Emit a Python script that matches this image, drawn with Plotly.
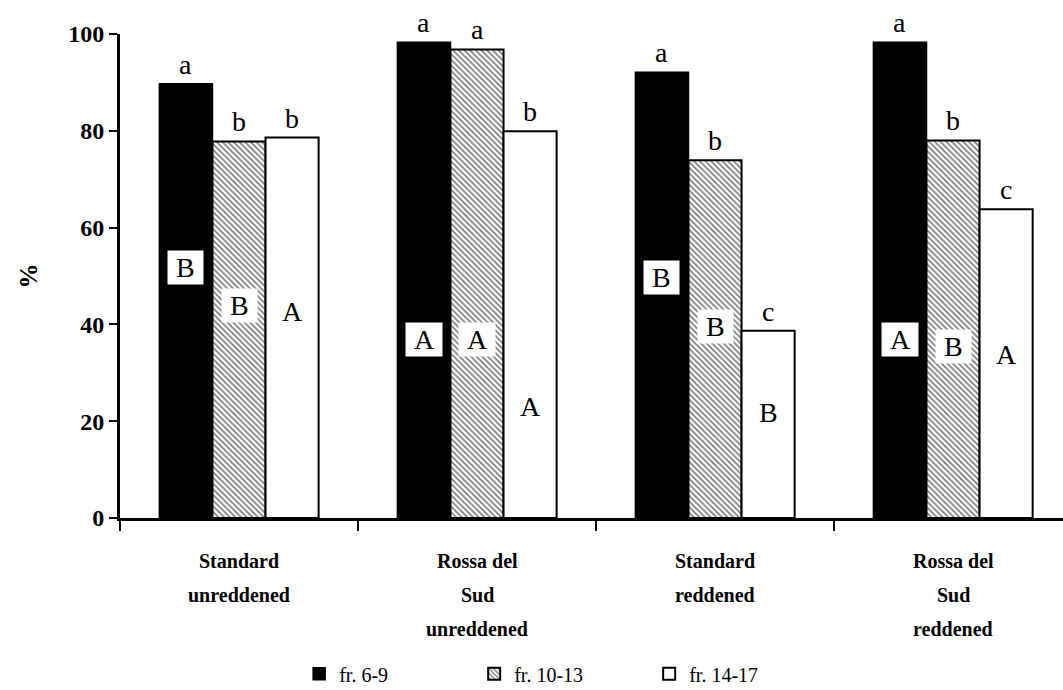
import plotly.graph_objects as go

# Groups and their (multi-line) names
groups = ["Standard\nunreddened", "Rossa del\nSud\nunreddened",
          "Standard\nreddened", "Rossa del\nSud\nreddened"]
series_names = ["fr. 6-9", "fr. 10-13", "fr. 14-17"]

# Percent values per fraction
fr_6_9 = [89.7, 98.3, 92.1, 98.3]
fr_10_13 = [77.8, 96.8, 73.9, 78.0]
fr_14_17 = [78.6, 79.9, 38.7, 63.8]

# Significance letters: lower case above each bar, upper case inside
lower_letters = [["a", "b", "b"], ["a", "a", "b"], ["a", "b", "c"], ["a", "b", "c"]]
upper_letters = [["B", "B", "A"], ["A", "A", "A"], ["B", "B", "B"], ["A", "B", "A"]]
upper_heights = [[51.7, 44.0, 42.6], [36.8, 36.8, 23.1],
                 [49.6, 39.5, 21.7], [36.8, 35.5, 33.8]]

y_ticks = [0, 20, 40, 60, 80, 100]

SERIF = "Liberation Serif, Times New Roman, serif"
BAR_W = 0.223
x_pos = list(range(len(groups)))

values = [fr_6_9, fr_10_13, fr_14_17]
styles = [
    dict(color="black", line=dict(color="black", width=1.5)),
    dict(color="white", line=dict(color="black", width=2),
         pattern=dict(shape="\\", fgcolor="black", bgcolor="white",
                      size=4, solidity=0.45)),
    dict(color="white", line=dict(color="black", width=2)),
]

fig = go.Figure()
offsets = []
for i, (name, vals, mk) in enumerate(zip(series_names, values, styles)):
    off = -1.5 * BAR_W + i * BAR_W
    offsets.append(off)
    fig.add_trace(go.Bar(
        x=x_pos, y=vals, name=name, width=BAR_W, offset=off,
        marker=mk, showlegend=True,
    ))

annotations = []
for g in range(len(groups)):
    for i in range(3):
        xc = x_pos[g] + offsets[i] + BAR_W / 2
        annotations.append(dict(
            x=xc, y=values[i][g], xref="x", yref="y", text=lower_letters[g][i],
            showarrow=False, yanchor="bottom", yshift=2,
            font=dict(family=SERIF, size=28, color="black")))
        annotations.append(dict(
            x=xc, y=upper_heights[g][i], xref="x", yref="y",
            text="\u00a0" + upper_letters[g][i] + "\u00a0",
            showarrow=False, yanchor="middle", bgcolor="white", borderpad=1,
            font=dict(family=SERIF, size=28, color="black")))

# Category names drawn line by line under the axis
for g, label in enumerate(groups):
    for k, line in enumerate(label.split("\n")):
        annotations.append(dict(
            x=x_pos[g], y=0, xref="x", yref="paper", text="<b>" + line + "</b>",
            showarrow=False, yanchor="middle", yshift=-43 - 34 * k,
            font=dict(family=SERIF, size=20, color="black")))

fig.update_layout(
    width=1063, height=690,
    margin=dict(l=120, r=0, t=34, b=172, autoexpand=False),
    paper_bgcolor="white", plot_bgcolor="white",
    barmode="overlay",
    annotations=annotations,
    showlegend=True,
    legend=dict(orientation="h", x=0.19, xanchor="left", y=-0.322, yanchor="middle",
                font=dict(family=SERIF, size=20, color="black"),
                itemwidth=30, entrywidth=130, traceorder="normal"),
    xaxis=dict(range=[-0.5, 3.462], tickvals=[-0.5, 0.5, 1.5, 2.5, 3.5],
               showticklabels=False, ticks="outside", ticklen=10, tickwidth=2,
               tickcolor="black", showline=True, linecolor="black", linewidth=3,
               showgrid=False, zeroline=False),
    yaxis=dict(range=[0, 100], tickvals=y_ticks, ticks="outside", ticklen=8,
               tickwidth=2, tickcolor="black", showline=True, linecolor="black",
               linewidth=3, showgrid=False, zeroline=False,
               tickfont=dict(family=SERIF, size=24, color="black", weight="bold"),
               title=dict(text="<b>%</b>", standoff=24,
                          font=dict(family=SERIF, size=25, color="black"))),
)

fig.write_html("out.html")
